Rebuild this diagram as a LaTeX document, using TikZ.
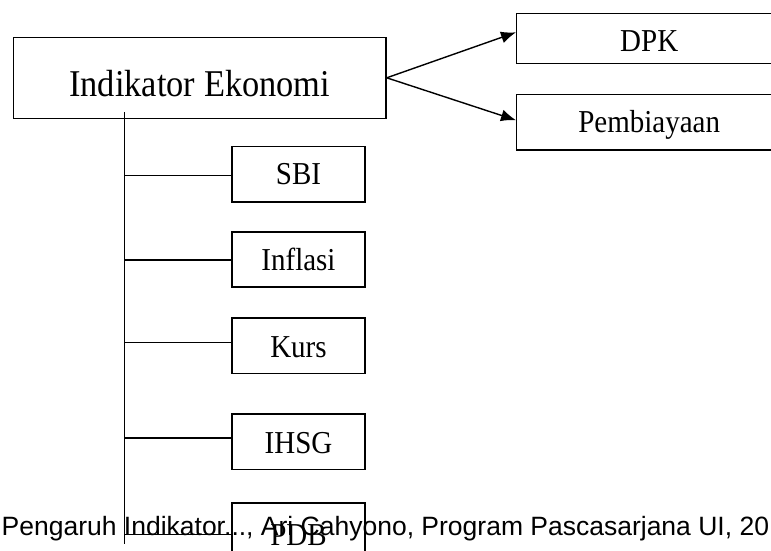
\documentclass[tikz,border=0pt]{standalone}
\usepackage{graphicx}
\usepackage{fontspec}
\setmainfont{Liberation Serif}
\newfontfamily\footfont{Liberation Sans}
\usetikzlibrary{arrows.meta,calc}
\newcommand{\tallt}[1]{\scalebox{1}[1.1]{#1}}
\tikzset{
  box/.style={draw, line width=1.4pt, rectangle, inner sep=0pt, text depth=0pt,
    font=\fontsize{29pt}{34pt}\selectfont},
  smallbox/.style={box, minimum width=132.7pt, minimum height=55.3pt, text height=22pt},
  wire/.style={line width=1.3pt},
  arr/.style={line width=1.4pt, -{Latex[length=15pt,width=12pt]}}
}
\begin{document}
\begin{tikzpicture}[x=1pt,y=-1pt]
\useasboundingbox (0,0) rectangle (771,551);
\clip (0,0) rectangle (771,551);
\fill[white] (0,0) rectangle (771,551);
% main box
\node[box, minimum width=372.7pt, minimum height=81pt, text height=37.8pt,
  font=\fontsize{34.4pt}{40pt}\selectfont] (main) at (199.7,77.8) {\tallt{Indikator Ekonomi}};
% right boxes
\node[box, minimum width=265pt, minimum height=50pt, text height=27pt] (dpk) at (649.2,38.3) {\tallt{DPK}};
\node[box, minimum width=265pt, minimum height=55.7pt, text height=20pt] (pemb) at (649.2,122.2) {\tallt{Pembiayaan}};
\draw[arr] (main.east) -- ($(dpk.west)+(0,-6)$);
\draw[arr] (main.east) -- ($(pemb.west)+(0,-2)$);
% left column
\node[smallbox, text height=20.5pt] (sbi) at (298.5,174.3) {\tallt{SBI}};
\node[smallbox] (infl) at (298.5,259.5) {\tallt{Inflasi}};
\node[smallbox, text height=24pt] (kurs) at (298.5,345.7) {\tallt{Kurs}};
\node[smallbox, text height=23pt] (ihsg) at (298.5,441.7) {\tallt{IHSG}};
\node[smallbox, text height=29pt] (pdb) at (298.5,530.5) {\tallt{PDB}};
\coordinate (vtop) at (124.3,112);
\coordinate (vbot) at (124.3,544);
\draw[wire] (vtop) -- (vbot);
\draw[wire] ($(vtop|-sbi.west)+(0,1.4)$) -- ($(sbi.west)+(0,1.4)$);
\draw[wire] ($(vtop|-infl.west)+(0,0.5)$) -- ($(infl.west)+(0,0.5)$);
\draw[wire] ($(vtop|-kurs.west)+(0,-3.4)$) -- ($(kurs.west)+(0,-3.4)$);
\draw[wire] ($(vtop|-ihsg.west)+(0,-3.7)$) -- ($(ihsg.west)+(0,-3.7)$);
\draw[wire] ($(vtop|-pdb.west)+(0,3.8)$) -- ($(pdb.west)+(0,3.8)$);
% footer text
\node[anchor=base west, inner sep=0pt, font=\footfont\fontsize{26.5pt}{30pt}\selectfont] (foot) at (1.5,535)
  {Pengaruh Indikator..., Ari Cahyono, Program Pascasarjana UI, 20};
\end{tikzpicture}
\end{document}
